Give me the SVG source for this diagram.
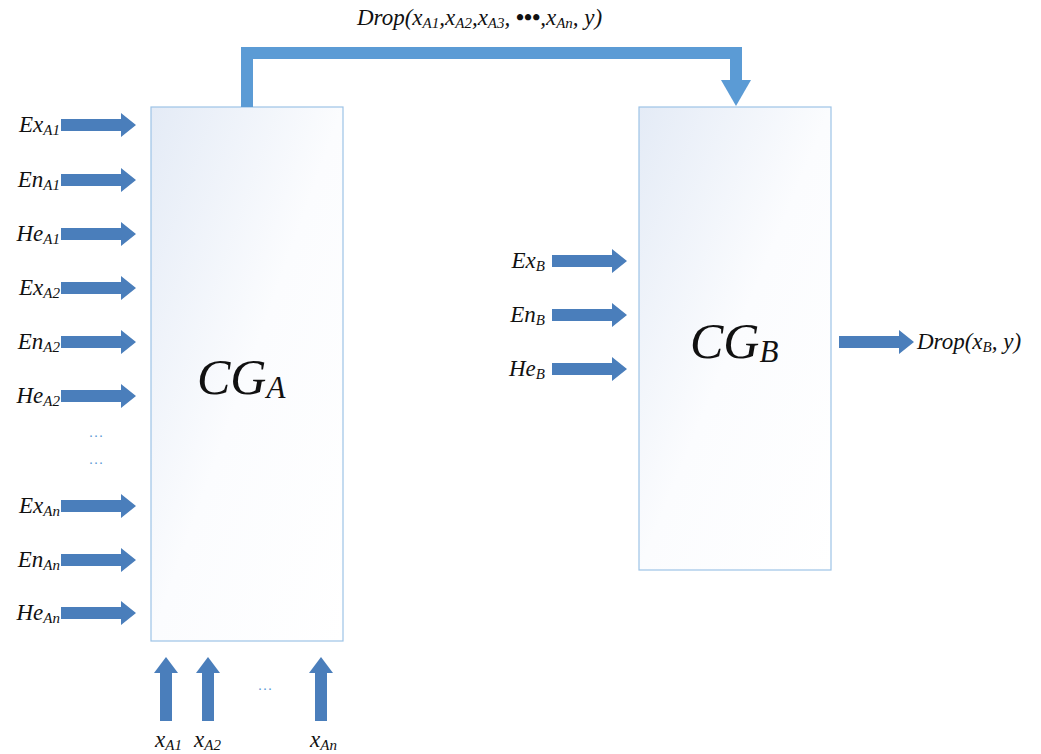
<svg xmlns="http://www.w3.org/2000/svg" width="1041" height="754" viewBox="0 0 1041 754">
<style>
.t{font-family:"Liberation Serif",serif;font-style:italic;fill:#111;}
.l{font-size:23px;}
.s{font-size:15px;}
.big{font-size:50px;}
.bs{font-size:31px;}
.dots{font-family:"Liberation Sans",sans-serif;font-size:15px;fill:#5b9bd5;}
.box{stroke:#9dc3e6;stroke-width:1.2;fill:url(#g);}
.arr{fill:#4a7ebb;}
</style>
<defs>
<linearGradient id="g" x1="0" y1="0" x2="1" y2="1">
<stop offset="0" stop-color="#e4ebf6"/>
<stop offset="0.5" stop-color="#fbfcfe"/>
<stop offset="1" stop-color="#ffffff"/>
</linearGradient>
<path id="ra" d="M0,-6 H60 V-12 L75,0 L60,12 V6 H0 Z"/>
<path id="ua" d="M-6,0 V-48 H-12 L0,-64 L12,-48 H6 V0 Z"/>
</defs>
<g id="CGA">
<rect class="box" x="151" y="107" width="192" height="534"/>
<text class="t big" x="197" y="394">CG<tspan class="bs" dy="4">A</tspan></text>
</g>
<g id="CGB">
<rect class="box" x="639" y="107" width="192" height="463"/>
<text class="t big" x="690" y="358">CG<tspan class="bs" dy="4">B</tspan></text>
</g>
<g id="connectors">
<path d="M247,107 V53 H736 V82" fill="none" stroke="#5b9bd5" stroke-width="12"/>
<path d="M721,80 H751 L736,106 Z" fill="#5b9bd5"/>
<use href="#ra" class="arr" x="61" y="125"/>
<use href="#ra" class="arr" x="61" y="180"/>
<use href="#ra" class="arr" x="61" y="234"/>
<use href="#ra" class="arr" x="61" y="288"/>
<use href="#ra" class="arr" x="61" y="342"/>
<use href="#ra" class="arr" x="61" y="396"/>
<use href="#ra" class="arr" x="61" y="506"/>
<use href="#ra" class="arr" x="61" y="560"/>
<use href="#ra" class="arr" x="61" y="613"/>
<use href="#ra" class="arr" x="552" y="261"/>
<use href="#ra" class="arr" x="552" y="315"/>
<use href="#ra" class="arr" x="552" y="369"/>
<use href="#ra" class="arr" x="839" y="342"/>
<use href="#ua" class="arr" x="166" y="721"/>
<use href="#ua" class="arr" x="208" y="721"/>
<use href="#ua" class="arr" x="321" y="721"/>
</g>
<g id="labels">
<text class="t l" x="60" y="132" text-anchor="end">Ex<tspan class="s" dy="3">A1</tspan></text>
<text class="t l" x="60" y="187" text-anchor="end">En<tspan class="s" dy="3">A1</tspan></text>
<text class="t l" x="60" y="241" text-anchor="end">He<tspan class="s" dy="3">A1</tspan></text>
<text class="t l" x="60" y="295" text-anchor="end">Ex<tspan class="s" dy="3">A2</tspan></text>
<text class="t l" x="60" y="349" text-anchor="end">En<tspan class="s" dy="3">A2</tspan></text>
<text class="t l" x="60" y="403" text-anchor="end">He<tspan class="s" dy="3">A2</tspan></text>
<text class="t l" x="60" y="513" text-anchor="end">Ex<tspan class="s" dy="3">An</tspan></text>
<text class="t l" x="60" y="567" text-anchor="end">En<tspan class="s" dy="3">An</tspan></text>
<text class="t l" x="60" y="620" text-anchor="end">He<tspan class="s" dy="3">An</tspan></text>
<text class="dots" x="96" y="440" text-anchor="middle">···</text>
<text class="dots" x="96" y="467" text-anchor="middle">···</text>
<text class="dots" x="265" y="693" text-anchor="middle">···</text>
<text class="t l" x="545" y="268" text-anchor="end">Ex<tspan class="s" dy="3">B</tspan></text>
<text class="t l" x="545" y="322" text-anchor="end">En<tspan class="s" dy="3">B</tspan></text>
<text class="t l" x="545" y="376" text-anchor="end">He<tspan class="s" dy="3">B</tspan></text>
<text class="t l" x="917" y="349">Drop(x<tspan class="s" dy="3">B</tspan><tspan dy="-3">, y)</tspan></text>
<text class="t l" x="155" y="747">x<tspan class="s" dy="3">A1</tspan></text>
<text class="t l" x="194" y="747">x<tspan class="s" dy="3">A2</tspan></text>
<text class="t l" x="310" y="747">x<tspan class="s" dy="3">An</tspan></text>
<text class="t l" x="357" y="25">Drop(x<tspan class="s" dy="3">A1</tspan><tspan dy="-3">,x</tspan><tspan class="s" dy="3">A2</tspan><tspan dy="-3">,x</tspan><tspan class="s" dy="3">A3</tspan><tspan dy="-3">, </tspan><tspan style="font-style:normal;font-weight:bold">•••</tspan><tspan>,x</tspan><tspan class="s" dy="3">An</tspan><tspan dy="-3">, y)</tspan></text>
</g>
</svg>
